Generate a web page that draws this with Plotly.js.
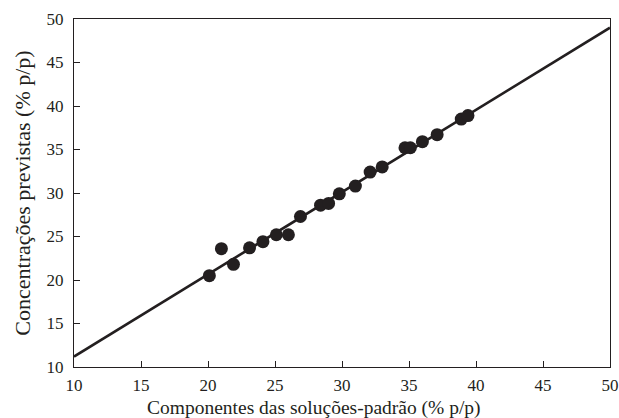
<!DOCTYPE html>
<html>
<head>
<meta charset="utf-8">
<script src="https://cdn.plot.ly/plotly-3.0.1.min.js"></script>
<style>html,body{margin:0;padding:0;background:#fff;}#chart{width:619px;height:418px;}</style>
</head>
<body>
<div id="chart"></div>
<script>
const standardX = [20.1, 21.0, 21.9, 23.1, 24.1, 25.1, 26.0, 26.9, 28.4, 29.0, 29.8, 31.0, 32.1, 33.0, 34.7, 35.1, 36.0, 37.1, 38.9, 39.4];
const predictedY = [20.5, 23.6, 21.8, 23.7, 24.4, 25.2, 25.2, 27.3, 28.6, 28.8, 29.9, 30.8, 32.4, 33.0, 35.2, 35.2, 35.9, 36.7, 38.5, 38.9];
const fitX = [10, 50];
const fitY = [11.2, 49.0];
const tickVals = [10, 15, 20, 25, 30, 35, 40, 45, 50];
const xTitle = 'Componentes das soluções-padrão (% p/p)';
const yTitle = 'Concentrações previstas (% p/p)';

const ink = '#231f20';
const font = 'Liberation Serif, Times New Roman, serif';

const data = [
  {x: fitX, y: fitY, mode: 'lines', type: 'scatter', line: {color: ink, width: 2.6}, hoverinfo: 'skip'},
  {x: standardX, y: predictedY, mode: 'markers', type: 'scatter', marker: {color: ink, size: 13}}
];

const axisCommon = {
  range: [10, 50], tickvals: tickVals, ticktext: tickVals.map(String),
  ticks: 'inside', ticklen: 6, tickwidth: 1, tickcolor: ink,
  showline: true, linecolor: ink, linewidth: 1.2, mirror: true,
  showgrid: false, zeroline: false,
  tickfont: {family: font, size: 17, color: ink}
};

const layout = {
  width: 619, height: 418,
  margin: {l: 74, r: 9, t: 19, b: 51},
  paper_bgcolor: '#fff', plot_bgcolor: '#fff',
  showlegend: false,
  font: {family: font, color: ink},
  xaxis: Object.assign({}, axisCommon, {ticklabelstandoff: 2}),
  yaxis: Object.assign({}, axisCommon, {
    title: {text: yTitle, font: {family: font, size: 22, color: ink}, standoff: 9},
    ticklabelstandoff: 6
  }),
  annotations: [{
    text: xTitle, xref: 'paper', yref: 'paper', x: 0.448, y: -0.118,
    xanchor: 'center', yanchor: 'middle', showarrow: false,
    font: {family: font, size: 19.5, color: ink}
  }]
};

Plotly.newPlot('chart', data, layout, {displayModeBar: false, staticPlot: true});
</script>
</body>
</html>
